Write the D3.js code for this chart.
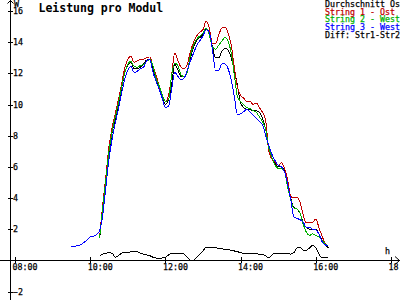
<!DOCTYPE html>
<html>
<head>
<meta charset="utf-8">
<script src="https://cdn.jsdelivr.net/npm/d3@7"></script>
<style>
  body { margin: 0; background: #fff; }
  svg { display: block; font-family: "DejaVu Sans Mono", monospace; }
</style>
</head>
<body>
<div id="chart"></div>
<script>
// Sample times (5 minute steps)
const times = [
    "09:30","09:35","09:40","09:45","09:50","09:55","10:00","10:05","10:10",
    "10:15","10:20","10:25","10:30","10:35","10:40","10:45","10:50","10:55",
    "11:00","11:05","11:10","11:15","11:20","11:25","11:30","11:35","11:40","11:45","11:50","11:55",
    "12:00","12:05","12:10","12:15","12:20","12:25","12:30","12:35","12:40","12:45","12:50","12:55",
    "13:00","13:05","13:10","13:15","13:20","13:25","13:30","13:35","13:40","13:45","13:50","13:55",
    "14:00","14:05","14:10","14:15","14:20","14:25","14:30","14:35","14:40","14:45","14:50","14:55",
    "15:00","15:05","15:10","15:15","15:20","15:25","15:30","15:35","15:40","15:45","15:50","15:55",
    "16:00","16:05","16:10","16:15","16:20"
];

// Power per module (W)
const durchschnitt = [
    null, null, null, null, null, null, null, null, null,
    1.4, 3.3, 5.1, 6.9, 8.2, 9.1, 10.0, 11.0, 12.0,
    12.5, 12.7, 12.3, 12.3, 12.4, 12.6, 12.85, 12.9, 12.3, 11.6, 11.0, 10.5,
    10.0, 10.3, 11.3, 12.6, 12.2, 11.8, 11.8, 12.2, 13.0, 13.7, 14.1, 14.3,
    14.5, 14.85, 14.5, 13.7, 13.0, 13.0, 13.4, 13.6, 13.5, 13.0, 12.2, 11.2,
    10.1, 9.8, 9.7, 9.68, 9.6, 9.6, 9.5, 9.1, 8.4, 7.2, 6.6, 6.2,
    6.0, 6.0, 5.8, 5.0, 4.0, 3.4, 3.3, 3.0, 2.4, 2.1, 2.0, 2.0,
    2.0, 1.7, 1.3, 1.0, 0.8
];
const string1 = [
    null, null, null, null, null, null, null, null, null,
    1.5, 3.6, 5.4, 7.3, 8.5, 9.4, 10.3, 11.3, 12.3,
    12.9, 13.1, 12.7, 12.8, 12.9, 12.9, 13.0, 13.05, 12.5, 11.9, 11.2, 10.6,
    10.2, 10.6, 11.9, 13.3, 12.8, 12.4, 12.3, 12.6, 13.4, 14.0, 14.4, 14.65,
    14.8, 15.35, 14.9, 13.9, 13.9, 14.45, 14.9, 14.97, 14.6, 13.8, 12.4, 11.1,
    10.6, 10.4, 10.2, 10.2, 10.0, 10.1, 9.8, 9.5, 9.0, 7.0, 6.5, 6.3,
    6.1, 6.26, 5.9, 5.2, 4.1, 4.0, 4.06, 3.7, 2.9, 2.4, 2.4, 2.45,
    2.65, 2.1, 1.55, 1.1, 0.95
];
const string2 = [
    null, null, null, null, null, null, null, null, null,
    1.4, 3.4, 5.2, 7.0, 8.3, 9.2, 10.1, 11.1, 12.0,
    12.6, 12.77, 12.45, 12.4, 12.5, 12.58, 12.75, 12.9, 12.5, 11.7, 11.2, 10.6,
    10.2, 10.3, 11.9, 12.65, 12.5, 11.9, 11.8, 12.1, 13.2, 13.8, 14.2, 14.4,
    14.6, 14.9, 14.45, 13.7, 13.55, 13.8, 14.06, 14.3, 14.06, 13.3, 11.9, 10.5,
    10.2, 10.0, 9.8, 9.75, 9.6, 9.5, 9.2, 8.9, 8.4, 7.2, 6.6, 6.1,
    5.9, 5.9, 5.7, 4.7, 3.9, 3.35, 3.3, 3.0, 2.3, 1.8, 1.6, 1.7,
    1.6, 1.5, 1.3, 1.05, 0.9
];
const string3 = [
    0.9, 0.9, 0.95, 1.0, 1.15, 1.3, 1.5, 1.55, 1.65,
    1.9, 2.9, 4.7, 6.5, 7.8, 8.8, 9.7, 10.7, 11.6,
    12.2, 12.45, 12.06, 12.13, 12.3, 12.39, 12.8, 12.9, 12.1, 11.5, 11.0, 10.4,
    9.8, 9.9, 11.0, 12.06, 11.8, 11.6, 11.7, 12.2, 12.8, 13.3, 13.8, 14.1,
    14.4, 14.8, 14.65, 13.55, 12.2, 12.2, 12.6, 12.6, 12.3, 11.6, 10.5, 9.35,
    9.4, 9.55, 9.7, 9.5, 9.3, 9.1, 8.9, 8.7, 8.0, 7.35, 6.8, 6.4,
    6.1, 6.0, 5.7, 4.9, 3.9, 2.8, 2.7, 2.6, 2.45, 2.1, 2.1, 2.0,
    1.95, 1.7, 1.2, 1.0, 0.9
];
const diff12 = [
    null, null, null, null, null, null, null, null, null,
    0.25, 0.4, 0.45, 0.5, 0.45, 0.2, 0.3, 0.45, 0.5,
    0.5, 0.55, 0.55, 0.55, 0.45, 0.4, 0.35, 0.3, 0.2, 0.15, 0.1, 0.15,
    0.2, 0.35, 0.45, 0.45, 0.45, 0.45, 0.4, 0.2, 0.0, 0.0, 0.2, 0.4,
    0.6, 0.85, 0.85, 0.83, 0.8, 0.78, 0.75, 0.7, 0.68, 0.65, 0.6, 0.55,
    0.5, 0.45, 0.45, 0.45, 0.45, 0.42, 0.4, 0.38, 0.3, 0.15, 0.35, 0.45,
    0.45, 0.45, 0.45, 0.45, 0.4, 0.5, 0.8, 0.85, 0.65, 0.65, 0.8, 0.95,
    0.8, 0.4, 0.15, 0.15, 0.15
];

const seriesNames = ["Durchschnitt Ost", "String 1 - Ost", "String 2 - West", "String 3 - West", "Diff: Str1-Str2"];
const seriesColors = ["#000000", "#c00000", "#00b000", "#0000ff", "#000000"];
const yTicks = [-2, 2, 4, 6, 8, 10, 12, 14, 16];
const xTicks = ["08:00", "10:00", "12:00", "14:00", "16:00", "18:00"];

const width = 400, height = 300;
const parseTime = d3.timeParse("%H:%M");

const svg = d3.select("#chart").append("svg")
    .attr("width", width)
    .attr("height", height);

svg.append("rect")
    .attr("width", width)
    .attr("height", height)
    .attr("fill", "#fff");

const x = d3.scaleTime()
    .domain([parseTime("08:00"), parseTime("18:00")])
    .range([15, 391]);

const y = d3.scaleLinear()
    .domain([-2, 16])
    .range([291.5, 11]);

const y0 = Math.round(y(0));

// small text helper: dark, slightly heavier like the pixel font
function smallText(sel, color) {
    sel.attr("font-family", "DejaVu Sans Mono")
        .attr("font-size", 8.3)
        .attr("fill", color)
        .attr("stroke", color)
        .attr("stroke-width", 0.25);
}

// x axis
const xAxis = svg.append("g")
    .attr("transform", `translate(0, ${y0})`)
    .attr("shape-rendering", "crispEdges")
    .call(d3.axisBottom(x)
        .tickValues(xTicks.map(parseTime))
        .tickFormat(d3.timeFormat("%H:%M"))
        .tickSizeOuter(0));
xAxis.select(".domain").remove();
xAxis.selectAll(".tick line").attr("y1", -3).attr("y2", 3).attr("stroke", "#000");
xAxis.selectAll(".tick text")
    .attr("x", -3)
    .attr("y", 10)
    .attr("dy", null)
    .attr("text-anchor", "start")
    .call(smallText, "#000");
xAxis.append("line")
    .attr("x1", 0).attr("x2", width)
    .attr("y1", 0.5).attr("y2", 0.5)
    .attr("stroke", "#000");

// y axis
const yAxis = svg.append("g")
    .attr("transform", "translate(10, 0)")
    .attr("shape-rendering", "crispEdges")
    .call(d3.axisLeft(y)
        .tickValues(yTicks)
        .tickSizeOuter(0));
yAxis.select(".domain").remove();
yAxis.selectAll(".tick line").attr("x1", -2).attr("x2", 3).attr("stroke", "#000");
yAxis.selectAll(".tick text")
    .attr("x", 3)
    .attr("text-anchor", "start")
    .call(smallText, "#000");
yAxis.append("line")
    .attr("x1", 0.5).attr("x2", 0.5)
    .attr("y1", 0).attr("y2", height)
    .attr("stroke", "#000");

// arrows and units
svg.append("path")
    .attr("d", "M7.5,3.5L10.5,0.5L13.5,3.5")
    .attr("fill", "none")
    .attr("stroke", "#000");
svg.append("path")
    .attr("d", `M395,${y0 - 3.5}L399.5,${y0 + 0.5}L395,${y0 + 4.5}`)
    .attr("fill", "none")
    .attr("stroke", "#000");
svg.append("text")
    .attr("x", 14).attr("y", 6.5)
    .call(smallText, "#000")
    .text("W");
svg.append("text")
    .attr("x", 385).attr("y", 254)
    .call(smallText, "#000")
    .text("h");

// series lines
const allSeries = [durchschnitt, string1, string2, string3, diff12];
const line = d3.line()
    .defined(d => d.v != null)
    .x(d => x(d.t))
    .y(d => y(d.v))
    .curve(d3.curveMonotoneX);

allSeries.forEach((values, i) => {
    const pts = times.map((t, j) => ({ t: parseTime(t), v: values[j] }));
    svg.append("path")
        .datum(pts)
        .attr("d", line)
        .attr("fill", "none")
        .attr("stroke", seriesColors[i])
        .attr("stroke-width", 1)
        .attr("shape-rendering", "crispEdges");
});

// title
svg.append("text")
    .attr("x", 38.5).attr("y", 11.5)
    .attr("font-size", 11.5)
    .attr("font-weight", "bold")
    .text("Leistung pro Modul");

// legend
svg.selectAll(".legend")
    .data(seriesNames)
    .enter()
    .append("text")
    .attr("class", "legend")
    .attr("x", 325)
    .attr("y", (_, i) => 7 + i * 7.7)
    .each(function (_, i) { d3.select(this).call(smallText, seriesColors[i]); })
    .text(d => d);
</script>
</body>
</html>
